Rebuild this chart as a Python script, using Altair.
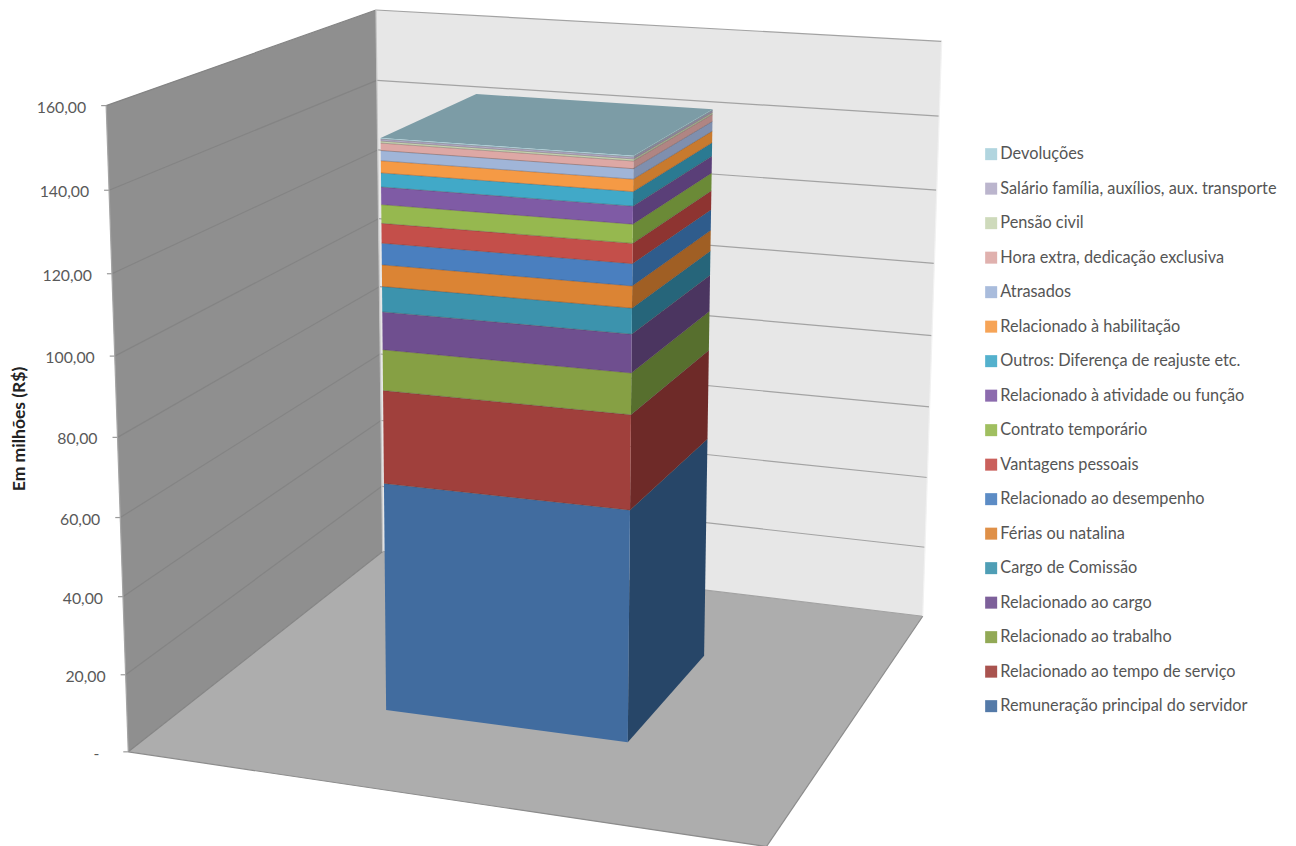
import numpy as np
import pandas as pd
import altair as alt

WIDTH, HEIGHT = 1296, 846

# Stacked composition of the single column, bottom to top (R$ millions)
series = [
    "Remuneração principal do servidor", "Relacionado ao tempo de serviço",
    "Relacionado ao trabalho", "Relacionado ao cargo", "Cargo de Comissão",
    "Férias ou natalina", "Relacionado ao desempenho", "Vantagens pessoais",
    "Contrato temporário", "Relacionado à atividade ou função",
    "Outros: Diferença de reajuste etc.", "Relacionado à habilitação",
    "Atrasados", "Hora extra, dedicação exclusiva", "Pensão civil",
    "Salário família, auxílios, aux. transporte", "Devoluções",
]
values = [61.7, 24.7, 10.7, 9.9, 6.6, 5.6, 5.6, 5.1, 4.8, 4.5, 3.6, 3.1, 2.6, 1.9, 0.5, 0.5, 0.3]
front_colors = [
    "#416C9F", "#A0403C", "#86A044", "#6F4F8F", "#3C93AD", "#DB8434", "#4A7FBF",
    "#C44F4A", "#96B84F", "#7F5BA5", "#41A9C8", "#F59A45", "#A0B5D8", "#DDA8A5",
    "#C9D6B4", "#B4ADC8", "#A8D0DB",
]
side_colors = [
    "#274668", "#6E2A28", "#576F2E", "#4B3560", "#26657A", "#A05F24", "#2F5C8C",
    "#8E3431", "#6B8A37", "#5A3F78", "#2B7A92", "#C87A2E", "#7F8FAE", "#B08583",
    "#A3AE90", "#8F89A3", "#86A8B0",
]
top_color = "#7C9CA6"

axis_ticks = [0, 20, 40, 60, 80, 100, 120, 140, 160]
axis_labels = ["-", "20,00", "40,00", "60,00", "80,00", "100,00", "120,00", "140,00", "160,00"]
label_gaps = [29, 20, 20, 20, 20, 20, 20, 20, 20]
axis_max = 160.0

# Oblique view: (x, height, depth) in unit-box coordinates paired with where
# that corner sits on the page; a projective camera is solved from the pairs.
wall_view = [
    ((0, 0, 0), (127, 752)), ((0, 0, 1), (384, 551)), ((1, 0, 1), (922, 617)),
    ((1, 0, 0), (767, 846)), ((0, 1, 0), (107, 106)), ((0, 1, 1), (375, 10)),
    ((1, 1, 1), (942, 41)),
]
column_view = [
    ((0, 0, 0), (386, 710)), ((1, 0, 0), (628, 742)), ((1, 0, 1), (704, 656)),
    ((0, 1, 0), (380, 138)), ((1, 1, 0), (634, 156)), ((1, 1, 1), (712, 109)),
    ((0, 1, 1), (477, 94)),
]


def solve_camera(pairs):
    rows = []
    for (wx, wy, wz), (u, v) in pairs:
        w = [wx, wy, wz, 1]
        rows.append(w + [0, 0, 0, 0] + [-u * c for c in w])
        rows.append([0, 0, 0, 0] + w + [-v * c for c in w])
    return np.linalg.svd(np.array(rows, float))[2][-1].reshape(3, 4)


def project(cam, wx, wy, wz):
    p = cam @ np.array([wx, wy, wz, 1.0])
    return p[0] / p[2], p[1] / p[2]


wall_cam = solve_camera(wall_view)
col_cam = solve_camera(column_view)
total = sum(values)


def polygon(rows, face, fill, corners, cam):
    for i, c in enumerate(list(corners) + [corners[0]]):
        px, py = project(cam, *c)
        rows.append({"face": face, "i": i, "px": px, "py": py, "fill": fill})


# Walls and floor
wall_rows = []
polygon(wall_rows, "left", "#8F8F8F", [(0, 0, 0), (0, 1, 0), (0, 1, 1), (0, 0, 1)], wall_cam)
polygon(wall_rows, "back", "#E7E7E7", [(0, 0, 1), (0, 1, 1), (1, 1, 1), (1, 0, 1)], wall_cam)
polygon(wall_rows, "floor", "#ADADAD", [(0, 0, 0), (0, 0, 1), (1, 0, 1), (1, 0, 0)], wall_cam)

# Gridlines, tick stubs and wall edges
line_rows = []


def segment(name, color, a, b):
    for i, (px, py) in enumerate((a, b)):
        line_rows.append({"seg": name, "i": i, "px": px, "py": py, "stroke": color})


label_rows = []
for tick, text, gap in zip(axis_ticks, axis_labels, label_gaps):
    h = tick / axis_max
    corner_front = project(wall_cam, 0, h, 0)
    corner_back = project(wall_cam, 0, h, 1)
    corner_right = project(wall_cam, 1, h, 1)
    segment(f"l{tick}", "#848484", corner_front, corner_back)
    segment(f"b{tick}", "#A3A3A3", corner_back, corner_right)
    segment(f"t{tick}", "#9A9A9A", (corner_front[0] - 5, corner_front[1]), corner_front)
    label_rows.append({"px": corner_front[0] - gap, "py": corner_front[1] + 2, "label": text})
segment("edge-f", "#A5A5A5", project(wall_cam, 0, 0, 0), project(wall_cam, 0, 1, 0))
segment("edge-b", "#C4C4C4", project(wall_cam, 0, 0, 1), project(wall_cam, 0, 1, 1))
segment("edge-r", "#F2F2F2", project(wall_cam, 1, 0, 1), project(wall_cam, 1, 1, 1))
segment("floor-f", "#8C8C8C", project(wall_cam, 0, 0, 0), project(wall_cam, 1, 0, 0))
segment("floor-r", "#8C8C8C", project(wall_cam, 1, 0, 0), project(wall_cam, 1, 0, 1))

# Column faces, one band per series
front_rows, side_rows, seam_rows = [], [], []
base = 0.0
for name, val, front, side in zip(series, values, front_colors, side_colors):
    lo, hi = base / total, (base + val) / total
    polygon(front_rows, name, front, [(0, lo, 0), (1, lo, 0), (1, hi, 0), (0, hi, 0)], col_cam)
    polygon(side_rows, name, side, [(1, lo, 0), (1, lo, 1), (1, hi, 1), (1, hi, 0)], col_cam)
    if base > 0:
        for i, c in enumerate([(0, lo, 0), (1, lo, 0), (1, lo, 1)]):
            px, py = project(col_cam, *c)
            seam_rows.append({"seg": name, "i": i, "px": px, "py": py})
    base += val
polygon(side_rows, "top", top_color, [(0, 1, 0), (1, 1, 0), (1, 1, 1), (0, 1, 1)], col_cam)

x_scale = alt.Scale(domain=[0, WIDTH], range=[0, WIDTH], nice=False, zero=False)
y_scale = alt.Scale(domain=[0, HEIGHT], range=[0, HEIGHT], nice=False, zero=False)
X = alt.X("px:Q", scale=x_scale, axis=None)
Y = alt.Y("py:Q", scale=y_scale, axis=None)

walls = alt.Chart(pd.DataFrame(wall_rows)).mark_line(filled=True, clip=True).encode(
    x=X, y=Y, order="i:Q", detail="face:N", color=alt.Color("fill:N", scale=None)
)
lines = alt.Chart(pd.DataFrame(line_rows)).mark_line(strokeWidth=1.2, clip=True).encode(
    x=X, y=Y, order="i:Q", detail="seg:N", color=alt.Color("stroke:N", scale=None)
)
sides = alt.Chart(pd.DataFrame(side_rows)).mark_line(filled=True).encode(
    x=X, y=Y, order="i:Q", detail="face:N", color=alt.Color("fill:N", scale=None)
)
fronts = alt.Chart(pd.DataFrame(front_rows)).mark_line(filled=True).encode(
    x=X, y=Y, order="i:Q",
    color=alt.Color(
        "face:N",
        sort=None,
        scale=alt.Scale(domain=series[::-1], range=front_colors[::-1]),
        legend=alt.Legend(
            title=None, orient="none", legendX=983, legendY=146, padding=0,
            symbolType="square", symbolSize=144, symbolStrokeWidth=0, symbolOpacity=0.9,
            rowPadding=17.5, labelFont="Lato", labelFontSize=16.3, labelColor="#555555",
            labelOffset=1, labelLimit=320, columnPadding=0,
        ),
    ),
)
seams = alt.Chart(pd.DataFrame(seam_rows)).mark_line(
    strokeWidth=1, color="#3A2A2A", opacity=0.3
).encode(x=X, y=Y, order="i:Q", detail="seg:N")
tick_text = alt.Chart(pd.DataFrame(label_rows)).mark_text(
    align="right", baseline="middle", font="Lato", fontSize=15.8, color="#595959"
).encode(x=X, y=Y, text="label:N")
axis_title = alt.Chart(pd.DataFrame({"label": ["Em milhões (R$)"]})).mark_text(
    angle=270, align="center", baseline="middle", font="Lato", fontWeight="bold",
    fontSize=17.5, color="#222222"
).encode(x=alt.value(20), y=alt.value(429), text="label:N")

chart = alt.layer(walls, lines, sides, fronts, seams, tick_text, axis_title).resolve_scale(
    color="independent"
).properties(
    width=WIDTH, height=HEIGHT, padding=0,
    autosize=alt.AutoSizeParams(type="none"), background="white",
).configure_view(stroke=None)

chart.save("out.html", embed_options={"renderer": "svg", "actions": False})
